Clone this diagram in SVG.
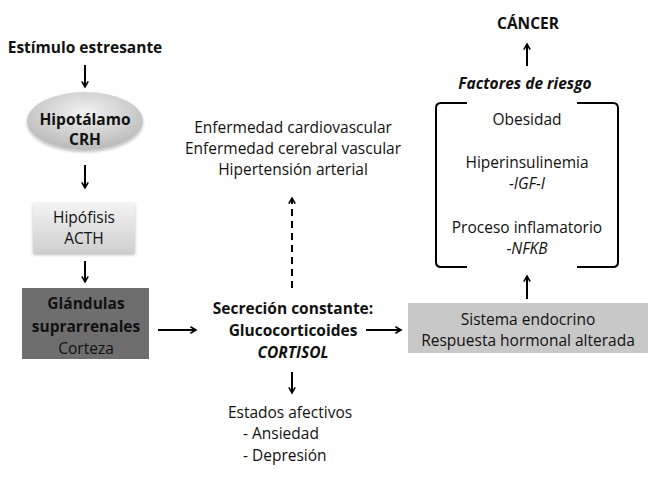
<svg xmlns="http://www.w3.org/2000/svg" width="663" height="477" viewBox="0 0 663 477">
<defs>
<marker id="ah" viewBox="0 0 10 10" refX="8" refY="5" markerWidth="4" markerHeight="4" orient="auto" markerUnits="strokeWidth">
<path d="M1,1 L8,5 L1,9" fill="none" stroke="#000" stroke-width="2"/>
</marker>
<radialGradient id="ell" cx="0.5" cy="0.35" r="0.6">
<stop offset="0" stop-color="#f2f2f2"/>
<stop offset="1" stop-color="#bdbdbd"/>
</radialGradient>
<linearGradient id="hip" x1="0" y1="0" x2="0" y2="1">
<stop offset="0" stop-color="#f4f4f4"/>
<stop offset="1" stop-color="#cfcfcf"/>
</linearGradient>
<filter id="sh" x="-10%" y="-10%" width="130%" height="140%">
<feDropShadow dx="0" dy="2" stdDeviation="1.5" flood-color="#000" flood-opacity="0.25"/>
</filter>
</defs>
<style>
text{font-family:"Open Sans","Liberation Sans",sans-serif;font-size:15.5px;fill:#111;text-anchor:middle}
.b{font-weight:bold}
.i{font-style:italic}
.s{text-anchor:start}
.c line{stroke:#000;stroke-width:2;fill:none}
</style>
<rect width="663" height="477" fill="#fff"/>
<g id="estimulo"><text class="b" x="85" y="53">Estímulo estresante</text></g>
<g id="hipotalamo">
<ellipse cx="85" cy="121" rx="58" ry="29" fill="url(#ell)" filter="url(#sh)"/>
<text class="b" x="85" y="125">Hipotálamo</text>
<text class="b" x="85" y="145">CRH</text>
</g>
<g id="hipofisis">
<rect x="33" y="202" width="102" height="51" fill="url(#hip)" filter="url(#sh)"/>
<text x="84" y="223">Hipófisis</text>
<text x="84" y="244">ACTH</text>
</g>
<g id="glandulas">
<rect x="22" y="288" width="127" height="71" fill="#6e6e6e"/>
<text class="b" x="86" y="309">Glándulas</text>
<text class="b" x="86" y="332">suprarrenales</text>
<text x="86" y="354">Corteza</text>
</g>
<g id="secrecion">
<text class="b" x="293" y="314">Secreción constante:</text>
<text class="b" x="293" y="336">Glucocorticoides</text>
<text class="b i" x="293" y="358">CORTISOL</text>
</g>
<g id="enfermedades">
<text x="293" y="133">Enfermedad cardiovascular</text>
<text x="293" y="154">Enfermedad cerebral vascular</text>
<text x="293" y="175">Hipertensión arterial</text>
</g>
<g id="estados">
<text x="290" y="418">Estados afectivos</text>
<text class="s" x="243" y="439">-  Ansiedad</text>
<text class="s" x="243" y="461">-  Depresión</text>
</g>
<g id="sistema">
<rect x="408" y="303" width="240" height="50" fill="#c8c8c8"/>
<text x="528" y="325">Sistema endocrino</text>
<text x="528" y="346">Respuesta hormonal alterada</text>
</g>
<g id="factores">
<text class="b i" x="525" y="89">Factores de riesgo</text>
<path d="M467,103 L441,103 Q436,103 436,108 L436,262 Q436,267 441,267 L467,267" fill="none" stroke="#000" stroke-width="2"/>
<path d="M577,103 L613,103 Q618,103 618,108 L618,262 Q618,267 613,267 L577,267" fill="none" stroke="#000" stroke-width="2"/>
<text x="527" y="125">Obesidad</text>
<text x="527" y="168">Hiperinsulinemia</text>
<text class="i" x="527" y="189">-IGF-I</text>
<text x="527" y="233">Proceso inflamatorio</text>
<text class="i" x="527" y="254">-NFKB</text>
</g>
<g id="cancer"><text class="b" x="528" y="29">CÁNCER</text></g>
<g id="connectors" class="c">
<line x1="85" y1="65" x2="85" y2="87" marker-end="url(#ah)"/>
<line x1="85" y1="165" x2="85" y2="188" marker-end="url(#ah)"/>
<line x1="85" y1="261" x2="85" y2="282" marker-end="url(#ah)"/>
<line x1="158" y1="330" x2="196" y2="330" marker-end="url(#ah)"/>
<line x1="366" y1="330" x2="401" y2="330" marker-end="url(#ah)"/>
<line x1="292" y1="288" x2="292" y2="198" stroke-dasharray="7,5" marker-end="url(#ah)"/>
<line x1="292" y1="372" x2="292" y2="393" marker-end="url(#ah)"/>
<line x1="527" y1="299" x2="527" y2="276" marker-end="url(#ah)"/>
<line x1="527" y1="66" x2="527" y2="44" marker-end="url(#ah)"/>
</g>
</svg>
